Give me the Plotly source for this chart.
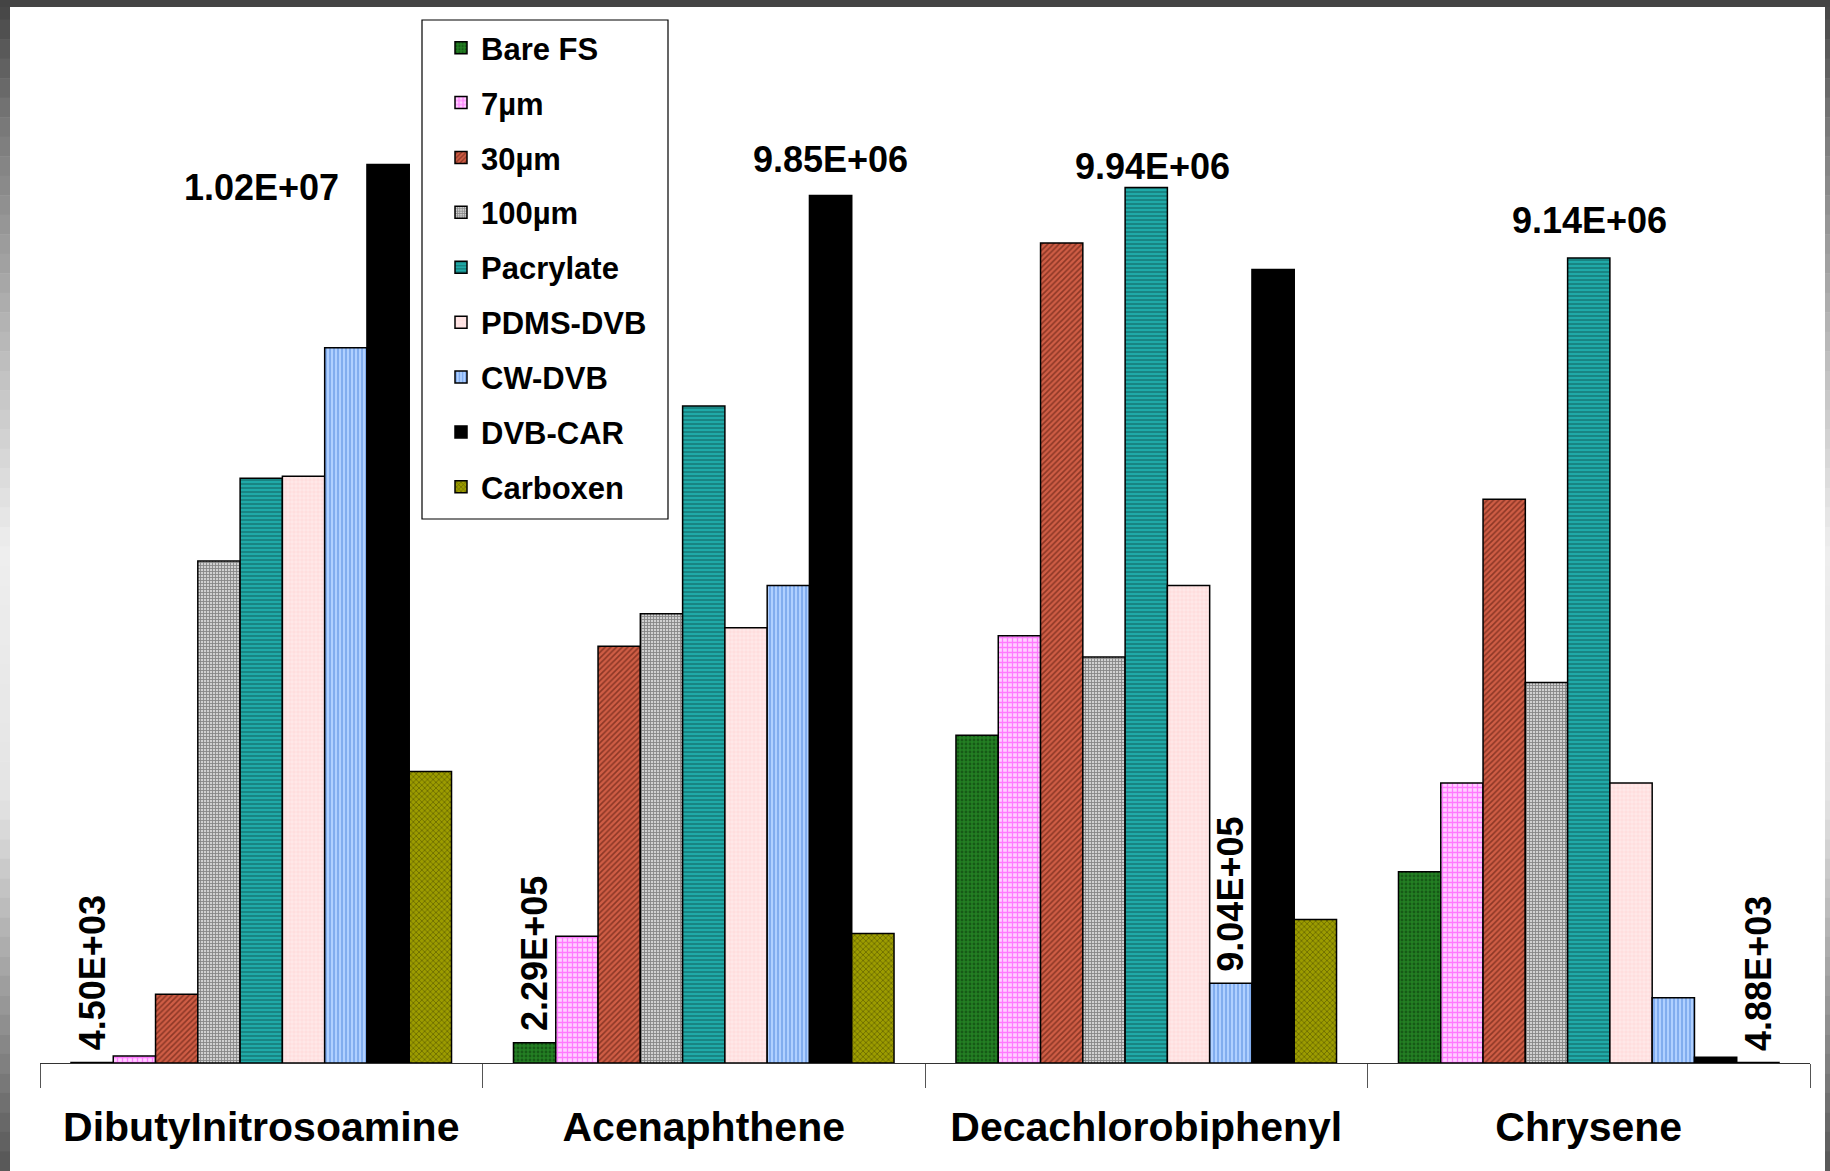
import plotly.graph_objects as go

categories = ["DibutyInitrosoamine", "Acenaphthene", "Decachlorobiphenyl", "Chrysene"]
series_names = ["Bare FS", "7\u00b5m", "30\u00b5m", "100\u00b5m", "Pacrylate", "PDMS-DVB", "CW-DVB", "DVB-CAR", "Carboxen"]

bare_fs   = [4.50e3, 2.29e5, 3.72e6, 2.17e6]
um7       = [8.0e4, 1.44e6, 4.85e6, 3.18e6]
um30      = [7.8e5, 4.73e6, 9.31e6, 6.40e6]
um100     = [5.70e6, 5.10e6, 4.61e6, 4.32e6]
pacrylate = [6.64e6, 7.46e6, 9.94e6, 9.14e6]
pdms_dvb  = [6.66e6, 4.94e6, 5.42e6, 3.18e6]
cw_dvb    = [8.12e6, 5.42e6, 9.04e5, 7.4e5]
dvb_car   = [1.02e7, 9.85e6, 9.01e6, 6.6e4]
carboxen  = [3.31e6, 1.47e6, 1.63e6, 4.88e3]

series_values = [bare_fs, um7, um30, um100, pacrylate, pdms_dvb, cw_dvb, dvb_car, carboxen]

# value labels: (series index, category index, text, orientation)
labels = [
    (7, 0, "1.02E+07", "h"),
    (7, 1, "9.85E+06", "h"),
    (4, 2, "9.94E+06", "h"),
    (4, 3, "9.14E+06", "h"),
    (0, 0, "4.50E+03", "v"),
    (0, 1, "2.29E+05", "v"),
    (6, 2, "9.04E+05", "v"),
    (8, 3, "4.88E+03", "v"),
]

styles = [
    dict(bg="#237f23", fg="#0a360a", shape=".", size=4, sol=0.4),
    dict(bg="#ffd0ff", fg="#ff22ff", shape="+", size=5, sol=0.45),
    dict(bg="#cf5d45", fg="#4a1208", shape="/", size=4, sol=0.4),
    dict(bg="#d0d0d0", fg="#3a3a3a", shape="+", size=3, sol=0.5),
    dict(bg="#20aaa8", fg="#0b3f3f", shape="-", size=4, sol=0.35),
    dict(bg="#ffe8e8", fg="#ffb8b8", shape="+", size=4, sol=0.2),
    dict(bg="#b0d0ff", fg="#3a78d6", shape="|", size=4, sol=0.4),
    dict(bg="#000000", fg="#000000", shape="", size=4, sol=0.3),
    dict(bg="#9c9c00", fg="#2e2e00", shape="x", size=4, sol=0.35),
]

BARGAP = 0.14
nser = len(series_names)

fig = go.Figure()
for i, (name, vals, st) in enumerate(zip(series_names, series_values, styles)):
    fig.add_trace(go.Bar(
        name=name, x=categories, y=vals, legendgroup=name,
        marker=dict(
            color=st["bg"],
            line=dict(color="#000000", width=1.5),
            pattern=dict(shape=st["shape"], fgcolor=st["fg"], bgcolor=st["bg"],
                         size=st["size"], solidity=st["sol"], fillmode="overlay"),
        ),
    ))

wbar = (1 - BARGAP) / nser
lab_font = dict(family="Liberation Sans, Arial, sans-serif", size=36, color="black")
for si, ci, txt, orient in labels:
    xv = ci + (si - (nser - 1) / 2) * wbar
    yv = series_values[si][ci]
    if orient == "h":
        if si == 7 and ci == 0:
            fig.add_annotation(x=ci, y=yv, text="<b>%s</b>" % txt, showarrow=False,
                               xref="x", yref="y", xanchor="center", yanchor="middle",
                               yshift=-23, font=lab_font)
        else:
            shift = {1: 13, 2: -2, 3: 15}[ci]
            xs = {1: 0, 2: 6, 3: 1}[ci]
            fig.add_annotation(x=xv, y=yv, text="<b>%s</b>" % txt, showarrow=False,
                               xref="x", yref="y", xanchor="center", yanchor="bottom",
                               yshift=shift, xshift=xs, font=lab_font)
    else:
        fig.add_annotation(x=xv, y=yv, text="<b>%s</b>" % txt, showarrow=False,
                           xref="x", yref="y", xanchor="center", yanchor="bottom",
                           textangle=-90, yshift=10, font=lab_font)

W, H = 1830, 1171
ML, MR, MT, MB = 40, 20, 30, 108
plot_w = W - ML - MR
plot_h = H - MT - MB
YMAX = plot_h * 11353.0


def px_to_paper_x(px):
    return (px - ML) / plot_w


def px_to_paper_y(py):
    return (H - MB - py) / plot_h


def lerp_color(stops, t):
    for (t0, c0), (t1, c1) in zip(stops[:-1], stops[1:]):
        if t0 <= t <= t1:
            f = (t - t0) / (t1 - t0) if t1 > t0 else 0
            v = int(round(c0 + (c1 - c0) * f))
            return "rgb(%d,%d,%d)" % (v, v, v)
    v = stops[-1][1]
    return "rgb(%d,%d,%d)" % (v, v, v)


shapes = []
edge_stops = [(0, 0x44), (120, 0x77), (350, 0xbb), (550, 0xee), (800, 0xe4), (1000, 0x99), (1171, 0x55)]
nseg = 60
for k in range(nseg):
    y0 = H * k / nseg
    y1 = H * (k + 1) / nseg
    col = lerp_color(edge_stops, (y0 + y1) / 2)
    shapes.append(dict(type="rect", xref="paper", yref="paper", layer="above",
                       x0=px_to_paper_x(0), x1=px_to_paper_x(10),
                       y0=px_to_paper_y(y0), y1=px_to_paper_y(y1 + 0.5),
                       fillcolor=col, line=dict(width=0)))
    shapes.append(dict(type="rect", xref="paper", yref="paper", layer="above",
                       x0=px_to_paper_x(1825), x1=px_to_paper_x(1830),
                       y0=px_to_paper_y(y0), y1=px_to_paper_y(y1 + 0.5),
                       fillcolor=col, line=dict(width=0)))
shapes.append(dict(type="rect", xref="paper", yref="paper", layer="above",
                   x0=px_to_paper_x(0), x1=px_to_paper_x(1830),
                   y0=px_to_paper_y(0), y1=px_to_paper_y(7),
                   fillcolor="#444444", line=dict(width=0)))
# legend frame
shapes.append(dict(type="rect", xref="paper", yref="paper", layer="above",
                   x0=px_to_paper_x(422), x1=px_to_paper_x(668),
                   y0=px_to_paper_y(20), y1=px_to_paper_y(519),
                   fillcolor="rgba(0,0,0,0)", line=dict(width=1.2, color="#000000")))

fig.update_layout(
    width=W, height=H,
    margin=dict(l=ML, r=MR, t=MT, b=MB),
    paper_bgcolor="white", plot_bgcolor="white",
    barmode="group", bargap=BARGAP, bargroupgap=0,
    font=dict(family="Liberation Sans, Arial, sans-serif", color="black"),
    showlegend=True,
    legend=dict(
        x=px_to_paper_x(423), y=px_to_paper_y(21), xanchor="left", yanchor="top",
        borderwidth=0, bgcolor="white", indentation=18,
        font=dict(family="Liberation Sans, Arial, sans-serif", size=31, color="black", weight="bold"),
        traceorder="grouped", tracegroupgap=11.6,
    ),
    xaxis=dict(
        showline=True, linecolor="#333333", linewidth=1,
        ticks="outside", tickson="boundaries", ticklen=24, tickcolor="#555555", tickwidth=1,
        ticklabelstandoff=28,
        tickfont=dict(family="Liberation Sans, Arial, sans-serif", size=41, color="black", weight="bold"),
        showgrid=False, zeroline=False,
    ),
    yaxis=dict(visible=False, range=[0, YMAX], showgrid=False, zeroline=False),
    shapes=shapes,
)

fig.write_html("out.html", config={"displayModeBar": False},
               post_script="document.body.style.margin='0';document.body.style.overflow='hidden';")
